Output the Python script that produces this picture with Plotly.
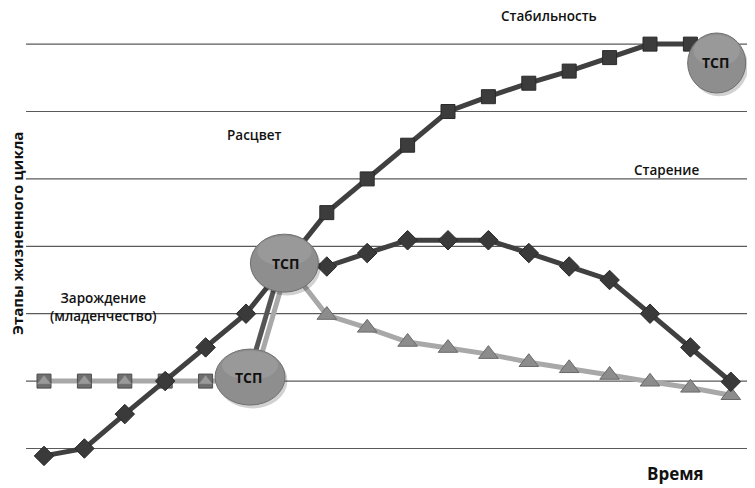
import plotly.graph_objects as go

# ---- data ----
rise_x = [0, 1, 2, 3, 4, 5]
rise_y = [-0.11, 0.0, 0.51, 1.0, 1.5, 2.0]
top_x = [7, 8, 9, 10, 11, 12, 13, 14, 15, 16]
top_y = [3.5, 4.0, 4.5, 5.0, 5.22, 5.42, 5.6, 5.8, 6.0, 6.0]
aging_x = [7, 8, 9, 10, 11, 12, 13, 14, 15, 16, 17]
aging_y = [2.70, 2.90, 3.09, 3.09, 3.09, 2.90, 2.70, 2.50, 2.0, 1.5, 0.99]
decl_x = [7, 8, 9, 10, 11, 12, 13, 14, 15, 16, 17]
decl_y = [1.98, 1.79, 1.58, 1.49, 1.40, 1.28, 1.19, 1.09, 0.99, 0.90, 0.79]
birth_x = [0, 1, 2, 3, 4]
birth_y = [1.0, 1.0, 1.0, 1.0, 1.0]
# crisis points (ТСП): (x, y)
tsp_main = (6.0, 2.75)
tsp_low = (5.1, 1.06)
tsp_top = (16.65, 5.72)

stage_labels = ["Стабильность", "Расцвет", "Старение", "Зарождение<br>(младенчество)"]
stage_pos = [(12.5, 6.42), (5.2, 4.65), (15.4, 4.13), (1.45, 2.1)]

DARK = "#404040"
LIGHT = "#a8a8a8"
FONT = "Open Sans"
PX_X = 755 / (17.797 + 0.891)
PX_Y = 488 / (6.536 + 0.705)

fig = go.Figure()

# connecting lines between crisis circles
fig.add_trace(go.Scatter(x=[tsp_main[0] - 0.12, tsp_low[0] - 0.05], y=[tsp_main[1], tsp_low[1]],
                         mode="lines", line=dict(color="#555555", width=5), hoverinfo="skip"))
fig.add_trace(go.Scatter(x=[tsp_main[0] + 0.05, tsp_low[0] + 0.12], y=[tsp_main[1], tsp_low[1]],
                         mode="lines", line=dict(color=LIGHT, width=5), hoverinfo="skip"))

# birth flat line
fig.add_trace(go.Scatter(x=birth_x + [tsp_low[0]], y=birth_y + [tsp_low[1] - 0.06], mode="lines",
                         line=dict(color=LIGHT, width=5), hoverinfo="skip"))
fig.add_trace(go.Scatter(x=birth_x, y=birth_y, mode="markers",
                         marker=dict(symbol="square", size=14, color="#6e6e6e",
                                     line=dict(color="#4a4a4a", width=1)), hoverinfo="skip"))
fig.add_trace(go.Scatter(x=birth_x, y=birth_y, mode="markers",
                         marker=dict(symbol="triangle-up", size=12, color="#9a9a9a",
                                     line=dict(color="#777777", width=0.5)), hoverinfo="skip"))

# decline line (triangles)
fig.add_trace(go.Scatter(x=[tsp_main[0]] + decl_x, y=[tsp_main[1]] + decl_y, mode="lines",
                         line=dict(color=LIGHT, width=5), hoverinfo="skip"))
fig.add_trace(go.Scatter(x=decl_x, y=decl_y, mode="markers",
                         marker=dict(symbol="triangle-up", size=17, color="#8c8c8c",
                                     line=dict(color="#6a6a6a", width=1)), hoverinfo="skip"))

# aging line (diamonds)
fig.add_trace(go.Scatter(x=[tsp_main[0]] + aging_x, y=[tsp_main[1]] + aging_y, mode="lines",
                         line=dict(color=DARK, width=5), hoverinfo="skip"))
fig.add_trace(go.Scatter(x=aging_x, y=aging_y, mode="markers",
                         marker=dict(symbol="diamond", size=15, color="#3a3a3a",
                                     line=dict(color="#2a2a2a", width=1)), hoverinfo="skip"))

# main rising line
fig.add_trace(go.Scatter(x=rise_x + top_x + [tsp_top[0]], y=rise_y + top_y + [6.0], mode="lines",
                         line=dict(color=DARK, width=5), hoverinfo="skip"))
fig.add_trace(go.Scatter(x=rise_x, y=rise_y, mode="markers",
                         marker=dict(symbol="diamond", size=15, color="#3a3a3a",
                                     line=dict(color="#2a2a2a", width=1)), hoverinfo="skip"))
fig.add_trace(go.Scatter(x=top_x, y=top_y, mode="markers",
                         marker=dict(symbol="square", size=14, color="#3c3c3c",
                                     line=dict(color="#2a2a2a", width=1)), hoverinfo="skip"))

shapes = []
# gridlines
for g in range(7):
    shapes.append(dict(type="line", xref="paper", yref="y", x0=18 / 755, x1=742 / 755, y0=g, y1=g,
                       line=dict(color="#5a5a5a", width=1.2), layer="below"))


def ellipse(cx, cy, wpx, hpx):
    dx = wpx / 2 / PX_X
    dy = hpx / 2 / PX_Y
    return [
        dict(type="circle", xref="x", yref="y", x0=cx - dx + 0.06, x1=cx + dx + 0.06,
             y0=cy - dy - 0.05, y1=cy + dy - 0.05, fillcolor="rgba(0,0,0,0.18)", line=dict(width=0)),
        dict(type="circle", xref="x", yref="y", x0=cx - dx, x1=cx + dx, y0=cy - dy, y1=cy + dy,
             fillcolor="#8e8e8e", line=dict(color="#6f6f6f", width=1)),
        dict(type="circle", xref="x", yref="y", x0=cx - dx * 0.8, x1=cx + dx * 0.8,
             y0=cy - dy * 0.1, y1=cy + dy * 0.93, fillcolor="rgba(255,255,255,0.10)", line=dict(width=0)),
    ]


shapes += ellipse(tsp_main[0] - 0.05, tsp_main[1], 68, 58)
shapes += ellipse(tsp_low[0], tsp_low[1], 70, 56)
shapes += ellipse(tsp_top[0], tsp_top[1], 58, 60)

annotations = []
for cx, cy in [tsp_main, tsp_low, tsp_top]:
    annotations.append(dict(x=cx - 0.03, y=cy, xref="x", yref="y", text="ТСП", showarrow=False,
                            xanchor="center", yanchor="middle",
                            font=dict(family=FONT, size=14, color="#111111", weight="bold")))
for t, (px, py) in zip(stage_labels, stage_pos):
    annotations.append(dict(x=px, y=py, xref="x", yref="y", text=t, showarrow=False,
                            xanchor="center", yanchor="middle",
                            font=dict(family=FONT, size=13.5, color="#111111", weight=600)))
annotations.append(dict(x=9 / 755, y=1 - 226 / 488, xref="paper", yref="paper",
                        xanchor="center", yanchor="middle",
                        text="Этапы жизненного цикла", textangle=-90, showarrow=False,
                        font=dict(family=FONT, size=15, color="#111111", weight="bold")))
annotations.append(dict(x=667 / 755, y=1 - 465 / 488, xref="paper", yref="paper", text="Время",
                        xanchor="center", yanchor="middle",
                        showarrow=False, font=dict(family=FONT, size=17, color="#111111", weight="bold")))

fig.update_layout(
    width=755, height=488, margin=dict(l=0, r=0, t=0, b=0),
    paper_bgcolor="white", plot_bgcolor="white", showlegend=False,
    xaxis=dict(range=[-0.891, 17.797], visible=False, fixedrange=True),
    yaxis=dict(range=[-0.705, 6.536], visible=False, fixedrange=True),
    shapes=shapes, annotations=annotations,
)

fig.write_html("out.html")
